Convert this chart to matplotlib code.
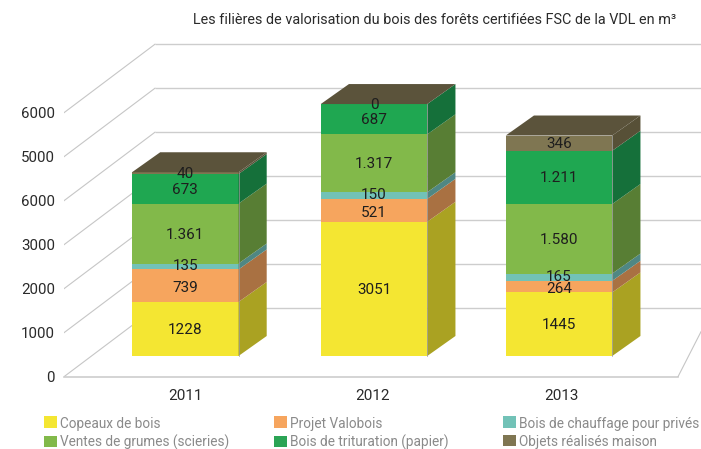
import matplotlib
matplotlib.use("Agg")
import matplotlib.pyplot as plt
from matplotlib.patches import Polygon, Patch

# ---- data ----
years = ["2011", "2012", "2013"]
copeaux = [1228, 3051, 1445]
valobois = [739, 521, 264]
chauffage = [135, 150, 165]
grumes = [1361, 1317, 1580]
trituration = [673, 687, 1211]
objets = [40, 0, 346]
labels_copeaux = ["1228", "3051", "1445"]
labels_valobois = ["739", "521", "264"]
labels_chauffage = ["135", "150", "165"]
labels_grumes = ["1.361", "1.317", "1.580"]
labels_trituration = ["673", "687", "1.211"]
labels_objets = ["40", "0", "346"]
y_tick_values = [0, 1000, 2000, 3000, 4000, 5000, 6000]
y_tick_labels = ["0", "1000", "2000", "3000", "6000", "5000", "6000"]
title = "Les filières de valorisation du bois des forêts certifiées FSC de la VDL en m³"

series_names = ["Copeaux de bois", "Projet Valobois", "Bois de chauffage pour privés",
                "Ventes de grumes (scieries)", "Bois de trituration (papier)", "Objets réalisés maison"]

# ---- style ----
FONT = "Roboto"
plt.rcParams["font.family"] = FONT
front_cols = ["#F4E632", "#F6A55E", "#72C2B7", "#82B94A", "#1FA751", "#7F7652"]
side_cols = ["#AAA222", "#A97142", "#4F8783", "#587E34", "#15703A", "#575037"]
label_drop_px = [1.0, 2.5, -0.5, 1.0, 1.0, 1.0]
top_col = "#5B533B"
legend_cols = {"Bois de trituration (papier)": "#2BA455"}
GRID = "#CDCDCD"
W, H = 701, 449
S = 0.0440           # pixels per unit
BASE_PY = 356        # pixel row of the bars' base
FLOOR_FRONT_PY = 376.7
FLOOR_BACK_PY = 308.2
AX_LEFT = 64
bar_x = [185.25, 374, 559]
tick_x = [185, 372.7, 561]
BAR_W = 106.5
DX, DY = 28.2, 20 / S
front_off = (BASE_PY - FLOOR_FRONT_PY) / S
back_off = (BASE_PY - FLOOR_BACK_PY) / S
WALL_X = 155

fig = plt.figure(figsize=(W / 100, H / 100), dpi=100, facecolor="white")
ax = fig.add_axes([AX_LEFT / W, (H - FLOOR_FRONT_PY) / H, (W - AX_LEFT) / W, FLOOR_FRONT_PY / H])
ax.set_xlim(AX_LEFT, W)
ax.set_ylim(front_off, BASE_PY / S)
for s in ax.spines.values():
    s.set_visible(False)
ax.patch.set_visible(False)

# walls
for v in y_tick_values:
    ax.plot([WALL_X, W], [v + back_off] * 2, color=GRID, lw=1.0, zorder=1, solid_capstyle="butt")
    ax.plot([AX_LEFT, WALL_X], [v + front_off, v + back_off], color="#C6C6C6", lw=0.8, zorder=1)
# floor
ax.plot([AX_LEFT, 678], [front_off] * 2, color=GRID, lw=1.2, zorder=1, clip_on=False)
ax.plot([678, W], [front_off, front_off + 45 / S], color="#C6C6C6", lw=0.8, zorder=1)

# bars
stack = [copeaux, valobois, chauffage, grumes, trituration, objets]
stack_labels = [labels_copeaux, labels_valobois, labels_chauffage, labels_grumes, labels_trituration, labels_objets]
bottoms = [0, 0, 0]
for vals, labs, fc, sc, drop in zip(stack, stack_labels, front_cols, side_cols, label_drop_px):
    ax.bar(bar_x, vals, width=BAR_W, bottom=bottoms, color=fc, zorder=3, linewidth=0)
    for i, (x, v, b) in enumerate(zip(bar_x, vals, bottoms)):
        r = x + BAR_W / 2
        if v > 0:
            ax.add_patch(Polygon([(r, b), (r + DX, b + DY), (r + DX, b + v + DY), (r, b + v)],
                                 closed=True, fc=sc, ec="none", zorder=3))
        ax.text(x, b + v / 2 - drop / S, labs[i], ha="center", va="center", fontsize=11,
                color="#1E1E1E", zorder=6)
    bottoms = [b + v for b, v in zip(bottoms, vals)]
for x, t in zip(bar_x, bottoms):
    l, r = x - BAR_W / 2, x + BAR_W / 2
    ax.add_patch(Polygon([(l, t), (r, t), (r + DX, t + DY), (l + DX, t + DY)],
                         closed=True, fc=top_col, ec="none", zorder=4))
    ax.plot([r, r], [0, t], color="#9A9A9A", lw=0.5, zorder=5)

# axes text
ax.set_yticks([v + front_off for v in y_tick_values], y_tick_labels)
ax.set_xticks(tick_x, years)
ax.tick_params(axis="both", length=0, labelsize=10.8, labelcolor="#2A2A2A")
ax.tick_params(axis="y", pad=6.5)
ax.tick_params(axis="x", pad=9.0, labelsize=11)

fig.text(434.5 / W, 1 - 20 / H, title, ha="center", va="center", fontsize=10.4, color="#2A2A2A")

# legends (one column each)
col_left = [44, 274, 503]
for c in range(3):
    idx = [c, c + 3]
    handles = [Patch(fc=legend_cols.get(series_names[i], front_cols[i]), ec="none") for i in idx]
    leg = fig.legend(handles, [series_names[i] for i in idx], loc="upper left",
                     bbox_to_anchor=(col_left[c] / W, 1 - 415.5 / H),
                     frameon=False, fontsize=9.8, labelcolor="#8A8A8A", ncol=1, borderpad=0, borderaxespad=0,
                     handlelength=0.95, handleheight=0.95, handletextpad=0.25, labelspacing=0.35)
    leg.get_texts()[0].set_position((0, -1.5))
    if c == 2:
        leg.get_texts()[1].set_position((0, -1.0))

fig.savefig("out.png", dpi=100)
